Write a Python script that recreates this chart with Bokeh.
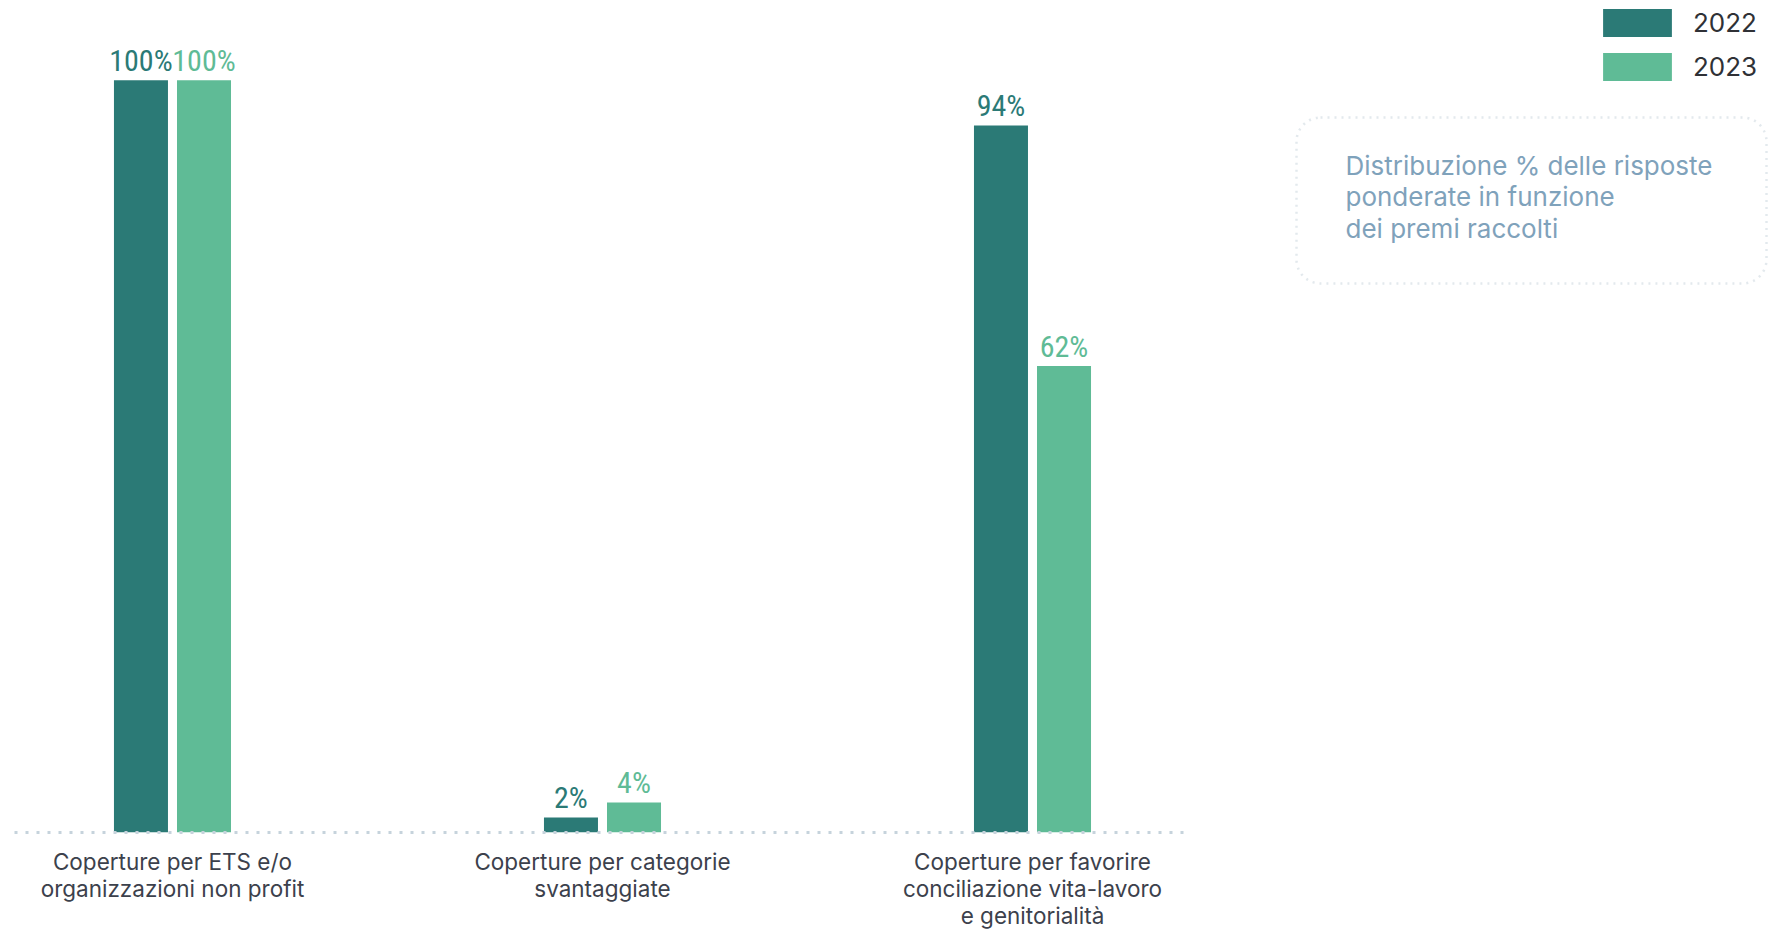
from bokeh.plotting import figure
from bokeh.models import (ColumnDataSource, Range1d, FixedTicker, LabelSet, Legend,
                          LegendItem, BoxAnnotation, Label)
from bokeh.transform import dodge
from bokeh.layouts import row
from bokeh.core.properties import value
from bokeh.embed import file_html
from bokeh.resources import INLINE

# ---- data ----
categories = [
    "Coperture per ETS e/o\norganizzazioni non profit",
    "Coperture per categorie\nsvantaggiate",
    "Coperture per favorire\nconciliazione vita-lavoro\ne genitorialità",
]
series_names = ["2022", "2023"]
values_2022 = [100, 2, 94]
values_2023 = [100, 4, 62]
box_text = "Distribuzione % delle risposte\nponderate in funzione\ndei premi raccolti"

C2022 = "#2b7a76"
C2023 = "#5fbb96"
FONT = "Inter"
NUM_FONT = "Roboto Condensed"

idx = list(range(len(categories)))
src = ColumnDataSource(dict(
    idx=idx,
    v2022=values_2022,
    v2023=values_2023,
    t2022=[f"{v}%" for v in values_2022],
    t2023=[f"{v}%" for v in values_2023],
))

p = figure(frame_width=1170, frame_height=832, output_backend="svg", toolbar_location=None,
           x_range=Range1d(-0.3674, 2.3535), y_range=Range1d(0, 110.6),
           y_axis_type=None,
           min_border_left=14, min_border_right=4, min_border_top=0, min_border_bottom=0)
p.outline_line_color = None
p.grid.visible = False
p.background_fill_color = "white"
p.border_fill_color = "white"

bw = 0.1256
off = 0.0733
r2022 = p.vbar(x=dodge("idx", -off, range=p.x_range), top="v2022", width=bw, source=src,
               fill_color=C2022, line_color=None)
r2023 = p.vbar(x=dodge("idx", off, range=p.x_range), top="v2023", width=bw, source=src,
               fill_color=C2023, line_color=None)

for col, tcol, color, o in [("v2022", "t2022", C2022, -off), ("v2023", "t2023", C2023, off)]:
    p.add_layout(LabelSet(x=dodge("idx", o, range=p.x_range), y=col, text=tcol, source=src,
                          y_offset=9, text_align="center", text_baseline="alphabetic",
                          text_color=color, text_font=value(NUM_FONT),
                          text_font_size="30px"))

ax = p.xaxis[0]
ax.ticker = FixedTicker(ticks=idx)
ax.major_label_overrides = {i: c for i, c in zip(idx, categories)}
ax.major_tick_line_color = None
ax.minor_tick_line_color = None
ax.axis_line_color = "#c6d3dc"
ax.axis_line_width = 3
ax.axis_line_dash = "3 8"
ax.major_label_text_font = FONT
ax.major_label_text_font_size = "22.5px"
ax.major_label_text_color = "#3c414c"
ax.major_label_standoff = 9
ax.major_label_text_line_height = 1.0

# ---- side panel: legend + note box ----
SW, SH = 588, 928
side = figure(frame_width=SW, frame_height=SH, output_backend="svg", toolbar_location=None,
              x_range=Range1d(0, SW), y_range=Range1d(0, SH),
              x_axis_type=None, y_axis_type=None, min_border=0)
side.outline_line_color = None
side.grid.visible = False
side.border_fill_color = "white"
side.background_fill_color = "white"

# legend proxies use the real data but are not drawn themselves
s1 = side.vbar(x="idx", top="v2022", width=0.5, source=src, fill_color=C2022,
               line_color=None, visible=False)
s2 = side.vbar(x="idx", top="v2023", width=0.5, source=src, fill_color=C2023,
               line_color=None, visible=False)
legend = Legend(items=[LegendItem(label=series_names[0], renderers=[s1]),
                       LegendItem(label=series_names[1], renderers=[s2])],
                location="top_right", margin=5, padding=6,
                glyph_width=86, glyph_height=35, label_standoff=13,
                label_width=78, spacing=9,
                label_text_font=FONT, label_text_font_size="26px",
                label_text_color="#2f3136",
                inactive_fill_alpha=0,
                border_line_color=None, background_fill_alpha=0)
side.add_layout(legend)

side.add_layout(BoxAnnotation(left=108, right=578, top=SH - 117, bottom=SH - 283,
                              fill_alpha=0, line_color="#a3b6c5", line_width=2.5,
                              line_dash="2 5", border_radius=24))
side.add_layout(Label(x=157, y=SH - 149, text=box_text, text_baseline="top",
                      text_align="left", text_font=FONT, text_font_size="26px",
                      text_color="#7fa2bb", text_line_height=1.02))

layout = row(p, side)
open("out.html", "w").write(file_html(layout, INLINE))
